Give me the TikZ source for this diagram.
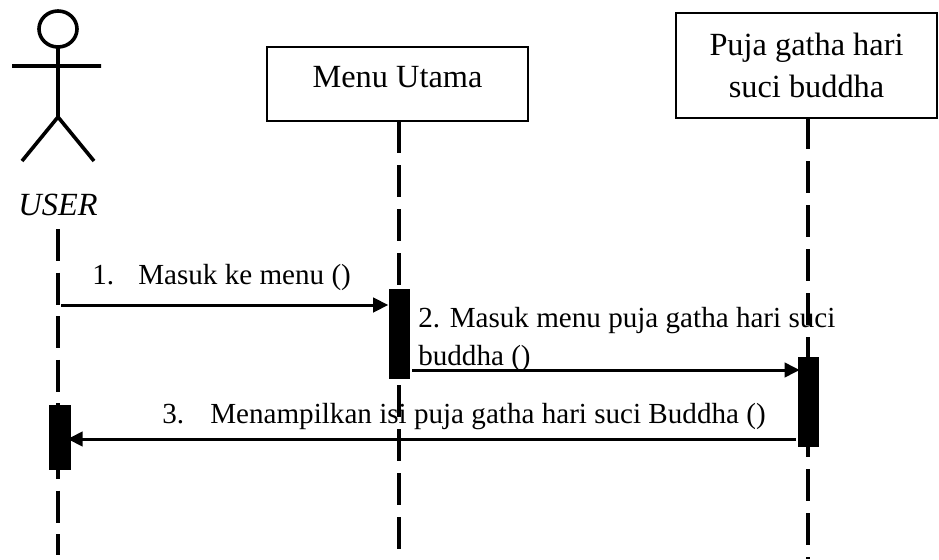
\documentclass[tikz,border=0pt]{standalone}
\usepackage{fontspec}
\setmainfont{Liberation Serif}
\usetikzlibrary{arrows.meta,calc}
\tikzset{
	objbox/.style={draw,line width=.07cm,fill=white,inner sep=0,align=center,font=\fontsize{23}{29.9}\selectfont},
	actbar/.style={fill=black,inner sep=0,minimum width=.525cm},
	life/.style={line width=.1cm,dash pattern=on .8cm off .3cm},
	actor/.style={line width=.09cm},
	msg/.style={line width=.075cm,-{Triangle[length=.375cm,width=.36cm]}},
	msgtext/.style={inner sep=0,anchor=base west,font=\fontsize{20.7}{27}\selectfont}
}
\begin{document}
\begin{tikzpicture}[x=.025cm,y=-.025cm]
		\useasboundingbox (0,0) rectangle (939,559);
		\def\xU{58}
		\def\xM{399}
		\def\xP{808}
		\path
		(\xU,229) coordinate (U_0)
		(\xU,555) coordinate (U_1)
		(\xM,121) coordinate (M_0)
		(\xM,549) coordinate (M_1)
		(\xP,117) coordinate (P_0)
		(\xP,559) coordinate (P_1)
		(61,305) coordinate (A_1)
		(412,370) coordinate (A_2)
		(796,439) coordinate (A_3);
		\draw[life,dash pattern=on .8cm off .29cm] (U_0)--(U_1);
		\draw[life] (M_0)--(M_1);
		\draw[life] (P_0)--(P_1);
		\node[objbox,minimum width=6.525cm,text height=1cm,text depth=.85cm] (menu) at (397.5,84) {Menu Utama};
		\node[objbox,minimum width=6.525cm,minimum height=2.625cm] (puja) at (806.5,65.5) {Puja gatha hari\\suci buddha};
		\node[actbar,minimum height=1.6cm] (userbar) at (60,437.5) {};
		\node[actbar,minimum height=2.25cm] (menubar) at (399,334) {};
		\node[actbar,minimum height=2.25cm] (pujabar) at (808,402) {};
		\draw[actor] (\xU,29) ellipse (19 and 18);
		\draw[actor] (\xU,47)--(\xU,117) (12,66)--(101,66) (22,161)--(\xU,117)--(94,161);
		\node[inner sep=0,anchor=base,font=\fontsize{23}{27}\selectfont\itshape] (user) at (\xU,215) {USER};
		\draw[msg] (A_1)--(A_1-|menubar.west);
		\draw[msg,shorten >=-.06cm] (A_2)--(A_2-|pujabar.west);
		\draw[msg,shorten >=-.08cm] (A_3)--(A_3-|userbar.east);
		\node[msgtext] (n1) at (92,284) {1.};
		\node[msgtext] (t1) at (138,284) {Masuk ke menu ()};
		\node[msgtext] (t2) at (418,327) {2. Masuk menu puja gatha hari suci};
		\node[msgtext] (t2b) at (418,365) {buddha ()};
		\node[msgtext] (n3) at (162,423) {3.};
		\node[msgtext] (t3) at (210,423) {Menampilkan isi puja gatha hari suci Buddha ()};
	\end{tikzpicture}
\end{document}
